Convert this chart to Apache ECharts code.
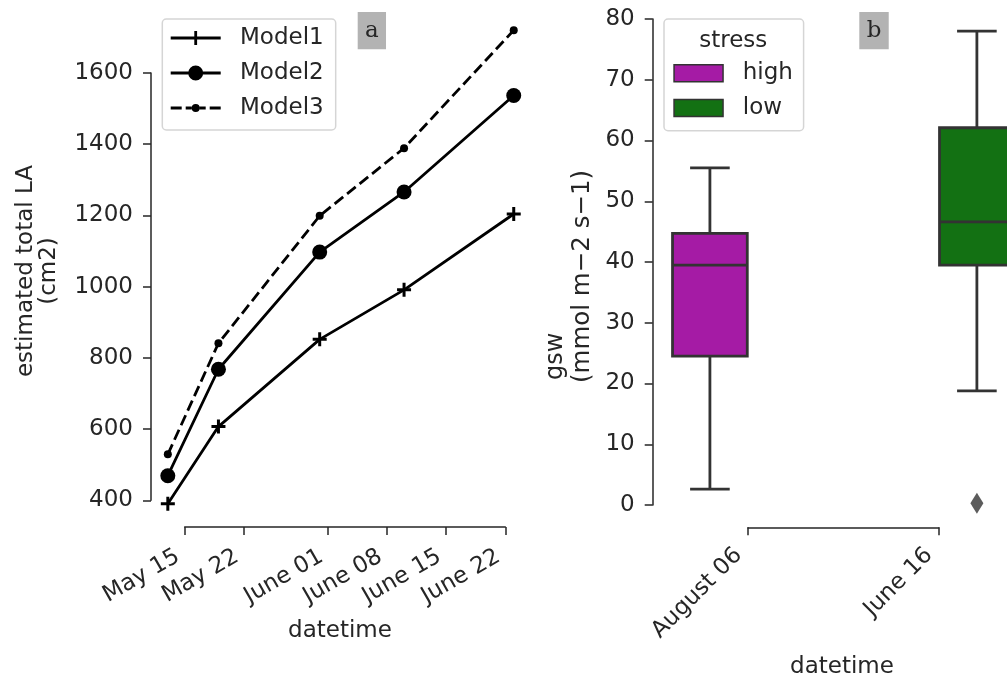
<!DOCTYPE html>
<html><head><meta charset="utf-8">
<script src="https://cdn.jsdelivr.net/npm/echarts@6/dist/echarts.min.js"></script>
<style>html,body{margin:0;padding:0;background:#fff}#c{width:1007px;height:676px}</style>
</head><body><div id="c"></div>
<script>
// ---------------- data ----------------
const measureDates = ['2022-05-13', '2022-05-19', '2022-05-31', '2022-06-10', '2022-06-23'];
const model1 = [390, 607, 852, 991, 1204];
const model2 = [469, 768, 1097, 1266, 1537];
const model3 = [529, 841, 1199, 1389, 1720];
const modelNames = ['Model1', 'Model2', 'Model3'];
const dateTickDates = ['2022-05-15', '2022-05-22', '2022-06-01', '2022-06-08', '2022-06-15', '2022-06-22'];
const dateTickLabels = ['May 15', 'May 22', 'June 01', 'June 08', 'June 15', 'June 22'];
const laTicks = [400, 600, 800, 1000, 1200, 1400, 1600];

const boxDates = ['August 06', 'June 16'];
const stressLevels = ['high', 'low'];
const highDate = 'August 06';
const highStats = [2.6, 24.5, 39.5, 44.7, 55.5];   // min, Q1, median, Q3, max
const lowDate = 'June 16';
const lowStats = [18.8, 39.5, 46.6, 62.1, 78.0];
const lowOutliers = [0.3];
const gswTicks = [0, 10, 20, 30, 40, 50, 60, 70, 80];

// ---------------- style ----------------
const FONT = 'DejaVu Sans';
const TXT = '#262626';
const EDGE = '#333333';
const HIGH_COLOR = '#a51ba5';
const LOW_COLOR = '#137113';
const HUE_OFFSET = [-0.2, 0.2];
const BOX_W = 0.392;
const LW = 2.8;

const ts = s => { const p = s.split('-'); return Date.UTC(+p[0], +p[1] - 1, +p[2]); };
const DAY = 86400000;
const tickTs = dateTickDates.map(ts);

const plusPath = 'path://M0,5.5H5.5V0H8.5V5.5H14V8.5H8.5V14H5.5V8.5H0Z';
const legendIcons = [
  'path://M0,8.6H23.6V3H26.4V8.6H50V11.4H26.4V17H23.6V11.4H0Z',
  'path://M0,8.6H18V11.4H0Z M17.5,10A7.5,7.5 0 1 1 32.5,10A7.5,7.5 0 1 1 17.5,10Z M32,8.6H50V11.4H32Z',
  'path://M0,8.6H11V11.4H0Z M15,8.6H21V11.4H15Z M21,10A4,4 0 1 1 29,10A4,4 0 1 1 21,10Z M29,8.6H35V11.4H29Z M39,8.6H50V11.4H39Z'
];

function boxRenderer(fill) {
  return function (params, api) {
    const x = api.value(0);
    const p = [1, 2, 3, 4, 5].map(k => api.coord([x, api.value(k)]));
    const cx = p[0][0];
    const w = api.size([BOX_W, 0])[0];
    const cap = w * 0.53;
    const ls = { stroke: EDGE, lineWidth: LW };
    return {
      type: 'group', children: [
        { type: 'line', shape: { x1: cx, y1: p[4][1], x2: cx, y2: p[3][1] }, style: ls },
        { type: 'line', shape: { x1: cx, y1: p[1][1], x2: cx, y2: p[0][1] }, style: ls },
        { type: 'line', shape: { x1: cx - cap / 2, y1: p[4][1], x2: cx + cap / 2, y2: p[4][1] }, style: ls },
        { type: 'line', shape: { x1: cx - cap / 2, y1: p[0][1], x2: cx + cap / 2, y2: p[0][1] }, style: ls },
        { type: 'rect', shape: { x: cx - w / 2, y: p[3][1], width: w, height: p[1][1] - p[3][1] }, style: { fill: fill, stroke: EDGE, lineWidth: LW } },
        { type: 'line', shape: { x1: cx - w / 2, y1: p[2][1], x2: cx + w / 2, y2: p[2][1] }, style: ls }
      ]
    };
  };
}

const axisLineStyle = { color: TXT, width: 1.5 };
const labelStyle = { fontFamily: FONT, fontSize: 23, color: TXT };
const hidden = (gi) => ({ gridIndex: gi, type: 'value', show: false, min: 0, max: 1 });

const option = {
  animation: false,
  backgroundColor: '#fff',
  grid: [
    { left: 159.39, top: 19.59, width: 362.78, height: 498.5, outerBoundsMode: 'none' },
    { left: 151, top: 73, width: 300, height: 427.3, outerBoundsMode: 'none' },
    { left: 184.7, top: 517, width: 320.6, height: 10, outerBoundsMode: 'none' },
    { left: 652.7, top: 19, width: 381.4, height: 486, outerBoundsMode: 'none' },
    { left: 748, top: 517.3, width: 190.7, height: 10, outerBoundsMode: 'none' }
  ],
  xAxis: [
    { gridIndex: 0, type: 'value', show: false, min: ts(dateTickDates[0]) - 3 * DAY, max: ts(dateTickDates[5]) + 2 * DAY },
    hidden(1),
    {
      gridIndex: 2, type: 'value', min: tickTs[0], max: tickTs[tickTs.length - 1],
      axisLine: { show: true, onZero: false, lineStyle: axisLineStyle },
      axisTick: { show: true, length: 8, customValues: tickTs, lineStyle: axisLineStyle },
      axisLabel: Object.assign({ customValues: tickTs, rotate: 30, margin: 24, padding: [0, 7.8, 0, 0],
        formatter: v => dateTickLabels[tickTs.indexOf(v)] }, labelStyle),
      splitLine: { show: false }
    },
    { gridIndex: 3, type: 'value', show: false, min: -0.5, max: 1.5 },
    {
      gridIndex: 4, type: 'category', data: boxDates, boundaryGap: false,
      axisLine: { show: true, onZero: false, lineStyle: axisLineStyle },
      axisTick: { show: true, length: 8, lineStyle: axisLineStyle },
      axisLabel: Object.assign({ rotate: 45, margin: 15, interval: 0, padding: [0, 13.4, 0, 0] }, labelStyle),
      splitLine: { show: false }
    }
  ],
  yAxis: [
    { gridIndex: 0, type: 'value', show: false, min: 350, max: 1750 },
    {
      gridIndex: 1, type: 'value', min: laTicks[0], max: laTicks[laTicks.length - 1], interval: laTicks[1] - laTicks[0],
      axisLine: { show: true, onZero: false, lineStyle: axisLineStyle },
      axisTick: { show: true, length: 8, lineStyle: axisLineStyle },
      axisLabel: Object.assign({ margin: 18, formatter: v => String(v) }, labelStyle),
      splitLine: { show: false }
    },
    hidden(2),
    {
      gridIndex: 3, type: 'value', min: gswTicks[0], max: gswTicks[gswTicks.length - 1], interval: gswTicks[1] - gswTicks[0],
      axisLine: { show: true, onZero: false, lineStyle: axisLineStyle },
      axisTick: { show: true, length: 8, lineStyle: axisLineStyle },
      axisLabel: Object.assign({ margin: 18, formatter: v => String(v) }, labelStyle),
      splitLine: { show: false }
    },
    hidden(4)
  ],
  title: [
    { text: 'a', left: 357.7, top: 12, padding: [7.15, 7.3], backgroundColor: '#b3b3b3',
      textStyle: { fontFamily: 'DejaVu Serif', fontSize: 23, fontWeight: 'normal', color: TXT, lineHeight: 23 } },
    { text: 'b', left: 859.3, top: 12, padding: [7.15, 7.35], backgroundColor: '#b3b3b3',
      textStyle: { fontFamily: 'DejaVu Serif', fontSize: 23, fontWeight: 'normal', color: TXT, lineHeight: 23 } }
  ],
  legend: [
    {
      left: 162.3, top: 19, orient: 'vertical', itemWidth: 50, itemHeight: 20, itemGap: 9,
      padding: [6, 12, 9, 8.4], backgroundColor: '#fff', borderColor: '#d5d5d5', borderWidth: 1.5, borderRadius: 4,
      selectedMode: false, itemStyle: { borderWidth: 0 },
      textStyle: { fontFamily: FONT, fontSize: 23, color: TXT, lineHeight: 26, padding: [0, 0, 0, 14.3] },
      data: modelNames.map((n, i) => ({ name: n, icon: legendIcons[i] }))
    },
    {
      left: 664, top: 19, orient: 'vertical', itemWidth: 49, itemHeight: 17, itemGap: 8.7,
      padding: [41.3, 10.7, 9.7, 9.3], backgroundColor: '#fff', borderColor: '#d5d5d5', borderWidth: 1.5, borderRadius: 4,
      selectedMode: false,
      textStyle: { fontFamily: FONT, fontSize: 23, color: TXT, lineHeight: 26, padding: [0, 0, 0, 14.7] },
      data: stressLevels.map((n, i) => ({ name: n, icon: 'rect',
        itemStyle: { color: i === 0 ? HIGH_COLOR : LOW_COLOR, borderColor: EDGE, borderWidth: 1.5 } }))
    }
  ],
  graphic: [
    { type: 'text', x: 26.3, y: 271, rotation: Math.PI / 2, z: 100,
      style: { text: 'estimated total LA', fontFamily: FONT, fontSize: 23, fill: TXT, align: 'center', verticalAlign: 'middle' } },
    { type: 'text', x: 48.8, y: 271, rotation: Math.PI / 2, z: 100,
      style: { text: '(cm2)', fontFamily: FONT, fontSize: 23, fill: TXT, align: 'center', verticalAlign: 'middle' } },
    { type: 'text', x: 340, y: 631, z: 100,
      style: { text: 'datetime', fontFamily: FONT, fontSize: 23, fill: TXT, align: 'center', verticalAlign: 'middle' } },
    { type: 'text', x: 555.6, y: 380, rotation: Math.PI / 2, z: 100,
      style: { text: 'gsw', fontFamily: FONT, fontSize: 24, fill: TXT, align: 'left', verticalAlign: 'middle' } },
    { type: 'text', x: 582.5, y: 383, rotation: Math.PI / 2, z: 100,
      style: { text: '(mmol m\u22122 s\u22121)', fontFamily: FONT, fontSize: 24.5, fill: TXT, align: 'left', verticalAlign: 'middle' } },
    { type: 'text', x: 842, y: 667, z: 100,
      style: { text: 'datetime', fontFamily: FONT, fontSize: 23, fill: TXT, align: 'center', verticalAlign: 'middle' } },
    { type: 'text', x: 733.3, y: 41.3, z: 100,
      style: { text: 'stress', fontFamily: FONT, fontSize: 23, fill: TXT, align: 'center', verticalAlign: 'middle' } }
  ],
  series: [
    { type: 'line', name: modelNames[0], xAxisIndex: 0, yAxisIndex: 0,
      data: measureDates.map((d, i) => [ts(d), model1[i]]),
      symbol: plusPath, symbolSize: 14, showAllSymbol: true,
      lineStyle: { color: '#000', width: LW }, itemStyle: { color: '#000', borderWidth: 0 } },
    { type: 'line', name: modelNames[1], xAxisIndex: 0, yAxisIndex: 0,
      data: measureDates.map((d, i) => [ts(d), model2[i]]),
      symbol: 'circle', symbolSize: 15, showAllSymbol: true,
      lineStyle: { color: '#000', width: LW }, itemStyle: { color: '#000', borderWidth: 0 } },
    { type: 'line', name: modelNames[2], xAxisIndex: 0, yAxisIndex: 0,
      data: measureDates.map((d, i) => [ts(d), model3[i]]),
      symbol: 'circle', symbolSize: 8, showAllSymbol: true,
      lineStyle: { color: '#000', width: LW, type: [11, 5] }, itemStyle: { color: '#000', borderWidth: 0 } },
    { type: 'custom', name: stressLevels[0], xAxisIndex: 3, yAxisIndex: 3,
      itemStyle: { color: HIGH_COLOR },
      encode: { x: 0, y: [1, 2, 3, 4, 5] },
      data: [[boxDates.indexOf(highDate) + HUE_OFFSET[0]].concat(highStats)],
      renderItem: boxRenderer(HIGH_COLOR) },
    { type: 'custom', name: stressLevels[1], xAxisIndex: 3, yAxisIndex: 3,
      itemStyle: { color: LOW_COLOR },
      encode: { x: 0, y: [1, 2, 3, 4, 5] },
      data: [[boxDates.indexOf(lowDate) + HUE_OFFSET[1]].concat(lowStats)],
      renderItem: boxRenderer(LOW_COLOR) },
    { type: 'scatter', name: 'low outliers', xAxisIndex: 3, yAxisIndex: 3,
      data: lowOutliers.map(v => [boxDates.indexOf(lowDate) + HUE_OFFSET[1], v]),
      symbol: 'diamond', symbolSize: [13, 21], itemStyle: { color: EDGE } }
  ]
};

const chart = echarts.init(document.getElementById('c'), null, { renderer: 'canvas' });
chart.setOption(option);
</script>
</body></html>
